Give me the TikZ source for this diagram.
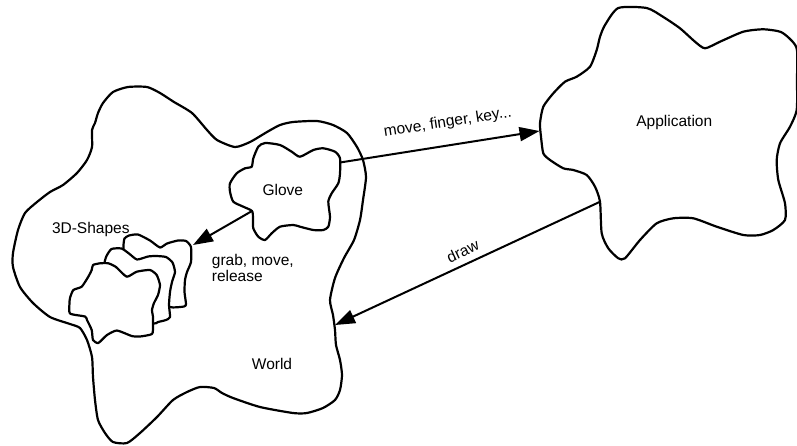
\documentclass[tikz,border=0pt]{standalone}
\usepackage{fontspec}
\setmainfont{Liberation Sans}
\usetikzlibrary{arrows.meta}
\begin{document}
\begin{tikzpicture}[x=1pt,y=-1pt,
  blob/.style={draw=black, line width=2.2pt, line join=round},
  shapeblob/.style={draw=black, fill=white, line width=2.2pt, line join=round},
  arr/.style={draw=black, line width=2pt, -{Triangle[length=20pt,width=14pt]}},
  lbl/.style={font=\fontsize{15.5}{16.7}\selectfont, inner sep=0pt, text=black}]
\useasboundingbox (0,0) rectangle (797,445);

% World
\draw[blob] plot[smooth cycle, tension=0.4] coordinates {
 (128,87) (147,87) (160,93) (174,102) (192,113) (207,130) (217,140) (235,147)
 (250,142) (267,132) (280,125) (293,122) (317,121) (333,125) (347,133) (357,147)
 (363,160) (366,177) (363,200) (360,220) (354,240) (344,258) (335,278) (330,300)
 (333,315) (335,330) (336,345) (340,360) (342,375) (340,390) (335,400) (323,408)
 (307,413) (293,413) (260,407) (233,398) (222,393) (214,388) (200,387) (187,392)
 (173,400) (157,417) (140,433) (127,443) (113,442) (105,433) (98,420) (95,400)
 (93,377) (92,357) (87,340) (80,328) (70,324) (50,317) (33,303) (20,287)
 (13,267) (13,253) (18,230) (25,213) (37,202) (50,192) (63,185) (77,173)
 (87,160) (92,147) (92,130) (95,123) (98,113) (103,103) (113,92)};

% Glove
\draw[blob] plot[smooth cycle, tension=0.4] coordinates {
 (253.3,158.3) (258.3,146.7) (265,143) (280,145) (291.7,151.7) (300,156.7)
 (313.3,150) (323.3,148.3) (335,151.7) (340,158.3) (340,173.3) (338.3,183.3)
 (331.7,193.3) (328.3,201.7) (330,216.7) (328.3,226.7) (323.3,230) (313.3,230)
 (300,226.7) (293.3,225) (280,226.7) (271.7,233.3) (265,240) (258.3,236.7)
 (253.3,228.3) (253,218.3) (252,211) (243.3,206.7) (233.3,201.7) (230,191.7)
 (230,183.3) (236.7,173.3) (245,168.3) (251.7,166.7)};

% 3D shapes (back to front)
\draw[shapeblob] plot[smooth cycle, tension=0.35] coordinates {
 (123.5,246) (124.5,238.5) (129,235.5) (138,234.5) (150,240.5) (160,247.5)
 (167,243.5) (178,240.5) (186,241) (191,247) (191,262) (187,272) (185,280)
 (184.5,292) (186,304) (184,306.5) (170,307) (160,295) (140,272) (125,254)};
\draw[shapeblob] plot[smooth cycle, tension=0.35] coordinates {
 (104.5,263) (106.5,256) (111.5,249) (121.5,248.5) (129,253.5) (137,259.5)
 (148,256.5) (156,256) (166,257) (172.5,262.5) (175,272) (172,282) (170,292)
 (169,305) (170,317) (166,320) (158,322) (153.5,323.5) (140,312) (120,285) (107,268)};
\draw[shapeblob] plot[smooth cycle, tension=0.35] coordinates {
 (93,265) (100,263.3) (108.3,263.3) (116,267) (126.7,276.7) (136.7,271.7)
 (150,270) (156.7,275) (160,285) (158,295) (154,303) (152,310) (153,317)
 (153,326) (152,334) (140,336.5) (131.7,336) (117,330.5) (107,335) (98.3,343)
 (93,340) (91.7,330) (87,320) (85,316.5) (70,313.5) (69.5,303) (70,298)
 (73.3,290) (81.7,286.7) (88.3,276.7) (91.7,270)};

% Application
\draw[blob] plot[smooth cycle, tension=0.4] coordinates {
 (618.3,8) (646.7,8) (663.3,17) (680,28.3) (695,41.7) (705,48.3) (720,41.7)
 (743.3,31.7) (763.3,29.3) (781,32) (792,41) (797,50) (797,80) (796.7,110)
 (790,126.7) (780,143.3) (776.7,160) (778.3,180) (785,203.3) (785,220)
 (773.3,230) (760,235) (743.3,235) (716.7,226.7) (693.3,218.3) (673.3,218.3)
 (656.7,223.3) (640,240) (625,258.3) (618.3,258.3) (608.3,248.3) (601.7,233.3)
 (600,201.7) (595,186.7) (586.7,175) (573.3,170) (563.3,168.3) (550,160)
 (543.3,153.3) (541,136.7) (540,123.3) (543.3,106.7) (553.3,93.3) (565,81.7)
 (576.7,76.7) (590,66.7) (596.7,50) (600,36.7) (605,25)};

% connector end points
\coordinate (gloveE) at (340,162.5);
\coordinate (appW) at (539.5,131);
\coordinate (gloveSW) at (252,211);
\coordinate (shapesNE) at (193,245);
\coordinate (appSW) at (599.5,202);
\coordinate (worldE) at (335,325);

\draw[arr] (gloveE) -- (appW);
\draw[arr] (gloveSW) -- (shapesNE);
\draw[arr] (appSW) -- (worldE);

% labels
\node[lbl, anchor=base] (applbl) at (674.3,126) {Application};
\node[lbl, anchor=base] (glovelbl) at (282.8,195) {Glove};
\node[lbl, anchor=base] (worldlbl) at (272,369.3) {World};
\node[lbl, anchor=base] (shapeslbl) at (90.8,233.3) {3D-Shapes};
\node[lbl, anchor=base west] (grab1) at (211.7,265) {grab, move,};
\node[lbl, anchor=base west] (grab2) at (211.7,281.7) {release};
\node[lbl, anchor=base, rotate=8.7] (movelbl) at (448.3,126.7) {move, finger, key...};
\node[lbl, anchor=base, rotate=25] (drawlbl) at (465,256) {draw};
\end{tikzpicture}
\end{document}
